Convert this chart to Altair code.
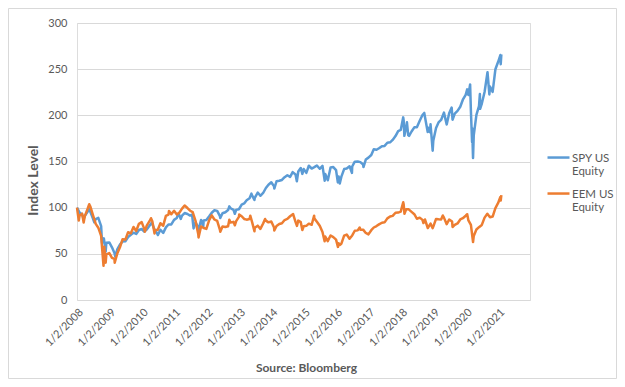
import altair as alt
import pandas as pd

spy_dates = [
    "2008-01-02", "2008-01-31", "2008-02-29", "2008-03-17", "2008-03-31", "2008-04-30", "2008-05-19",
    "2008-06-30", "2008-07-15", "2008-07-31", "2008-08-29", "2008-09-30", "2008-10-10", "2008-10-31",
    "2008-11-20", "2008-11-28", "2008-12-31",
    "2009-01-30", "2009-02-27", "2009-03-09", "2009-03-31", "2009-04-30", "2009-05-29", "2009-06-30",
    "2009-07-31", "2009-08-31", "2009-09-30", "2009-10-30", "2009-11-30", "2009-12-31",
    "2010-01-29", "2010-02-26", "2010-03-31", "2010-04-23", "2010-05-28", "2010-06-30", "2010-07-02",
    "2010-07-30", "2010-08-31", "2010-09-30", "2010-10-29", "2010-11-30", "2010-12-31",
    "2011-01-31", "2011-02-18", "2011-02-28", "2011-03-16", "2011-03-31", "2011-04-29", "2011-05-31",
    "2011-06-30", "2011-07-22", "2011-08-08", "2011-08-31", "2011-09-30", "2011-10-03", "2011-10-31",
    "2011-11-25", "2011-11-30", "2011-12-30",
    "2012-01-31", "2012-02-29", "2012-03-30", "2012-04-30", "2012-05-31", "2012-06-04", "2012-06-29",
    "2012-07-31", "2012-08-31", "2012-09-14", "2012-09-28", "2012-10-31", "2012-11-15", "2012-11-30",
    "2012-12-31",
    "2013-01-31", "2013-02-28", "2013-03-28", "2013-04-30", "2013-05-21", "2013-05-31", "2013-06-24",
    "2013-06-28", "2013-07-31", "2013-08-30", "2013-09-30", "2013-10-31", "2013-11-29", "2013-12-31",
    "2014-01-31", "2014-02-03", "2014-02-28", "2014-03-31", "2014-04-30", "2014-05-30", "2014-06-30",
    "2014-07-31", "2014-08-29", "2014-09-30", "2014-10-15", "2014-10-31", "2014-11-28", "2014-12-16",
    "2014-12-31",
    "2015-01-30", "2015-02-27", "2015-03-31", "2015-04-30", "2015-05-29", "2015-06-30", "2015-07-31",
    "2015-08-25", "2015-08-31", "2015-09-29", "2015-10-30", "2015-11-30", "2015-12-31",
    "2016-01-20", "2016-01-29", "2016-02-11", "2016-02-29", "2016-03-31", "2016-04-29", "2016-05-31",
    "2016-06-27", "2016-06-30", "2016-07-29", "2016-08-31", "2016-09-30", "2016-10-31", "2016-11-04",
    "2016-11-30", "2016-12-30",
    "2017-01-31", "2017-02-28", "2017-03-31", "2017-04-28", "2017-05-31", "2017-06-30", "2017-07-31",
    "2017-08-31", "2017-09-29", "2017-10-31", "2017-11-30", "2017-12-29",
    "2018-01-26", "2018-01-31", "2018-02-08", "2018-02-28", "2018-03-09", "2018-03-23", "2018-04-02",
    "2018-04-30", "2018-05-31", "2018-06-29", "2018-07-31", "2018-08-31", "2018-09-20", "2018-10-29",
    "2018-10-31", "2018-11-23", "2018-11-30", "2018-12-24", "2018-12-31",
    "2019-01-31", "2019-02-28", "2019-03-29", "2019-04-30", "2019-05-31", "2019-06-28", "2019-07-26",
    "2019-08-05", "2019-08-30", "2019-09-30", "2019-10-31", "2019-11-29", "2019-12-31",
    "2020-01-17", "2020-01-31", "2020-02-19", "2020-02-28", "2020-03-12", "2020-03-13", "2020-03-23",
    "2020-03-31", "2020-04-30", "2020-05-29", "2020-06-08", "2020-06-11", "2020-06-30", "2020-07-31",
    "2020-09-02", "2020-09-23", "2020-09-30", "2020-10-30", "2020-11-30", "2020-12-31",
    "2021-01-25", "2021-01-29", "2021-02-05",
]
spy_values = [
    100.0, 94.8, 92.3, 88.0, 91.1, 95.4, 98.5,
    88.3, 84.2, 87.5, 88.9, 80.1, 61.8, 66.8,
    52.4, 62.0, 62.3,
    57.1, 51.0, 47.0, 54.9, 60.0, 63.4, 63.5,
    68.2, 70.7, 72.9, 71.5, 75.8, 76.9,
    74.1, 76.4, 80.7, 83.8, 75.5, 70.9, 70.3,
    76.1, 72.7, 78.7, 81.8, 81.8, 86.8,
    88.8, 93.5, 91.9, 87.8, 91.4, 94.2, 93.1,
    91.4, 92.6, 77.5, 84.1, 78.1, 75.8, 86.6,
    79.8, 86.2, 86.6,
    90.6, 94.5, 97.2, 96.5, 90.8, 88.9, 93.9,
    95.0, 97.4, 101.4, 99.4, 97.6, 93.4, 97.6,
    98.3,
    103.3, 104.6, 108.1, 110.2, 115.2, 112.8, 108.3,
    110.7, 116.4, 112.9, 115.9, 121.3, 124.9, 127.5,
    123.0, 120.7, 128.6, 129.1, 130.0, 133.0, 135.1,
    133.3, 138.5, 136.0, 128.6, 139.2, 143.0, 136.6,
    141.8,
    137.7, 145.4, 142.4, 143.9, 145.7, 142.1, 145.3,
    129.2, 136.4, 129.7, 143.5, 144.0, 140.7,
    127.4, 133.7, 126.2, 133.6, 141.8, 142.4, 144.8,
    137.7, 144.6, 149.8, 150.0, 149.3, 146.7, 144.0,
    152.1, 154.2,
    157.0, 163.2, 162.7, 164.3, 166.6, 166.9, 170.3,
    170.8, 173.4, 177.5, 182.9, 184.2,
    197.8, 194.5, 177.8, 187.5, 192.5, 178.6, 177.7,
    182.5, 187.0, 187.2, 194.1, 200.3, 202.6, 182.0,
    186.7, 181.7, 190.3, 161.7, 172.5,
    186.3, 192.3, 195.0, 202.9, 190.0, 202.2, 208.4,
    195.2, 201.9, 204.8, 209.3, 216.9, 222.2,
    228.1, 222.0, 233.5, 204.5, 171.2, 185.9, 153.8,
    178.3, 200.5, 210.0, 223.1, 207.0, 212.8, 225.3,
    246.7, 222.6, 231.1, 225.3, 249.9, 258.0,
    265.3, 255.4, 266.0,
]

eem_dates = [
    "2008-01-02", "2008-01-22", "2008-01-31", "2008-02-29", "2008-03-17", "2008-03-31", "2008-04-30",
    "2008-05-19", "2008-05-30", "2008-06-30", "2008-07-31", "2008-08-29", "2008-09-30", "2008-10-27",
    "2008-11-04", "2008-11-20", "2008-11-28", "2008-12-31",
    "2009-01-30", "2009-02-27", "2009-03-02", "2009-03-31", "2009-04-30", "2009-05-29", "2009-06-30",
    "2009-07-31", "2009-08-31", "2009-09-30", "2009-10-30", "2009-11-30", "2009-12-31",
    "2010-01-29", "2010-02-05", "2010-02-26", "2010-03-31", "2010-04-15", "2010-04-30", "2010-05-25",
    "2010-05-28", "2010-06-30", "2010-07-30", "2010-08-31", "2010-09-30", "2010-10-29", "2010-11-04",
    "2010-11-30", "2010-12-31",
    "2011-01-31", "2011-02-28", "2011-03-31", "2011-04-29", "2011-05-31", "2011-06-30", "2011-07-29",
    "2011-08-31", "2011-09-30", "2011-10-03", "2011-10-31", "2011-11-30", "2011-12-30",
    "2012-01-31", "2012-02-29", "2012-03-30", "2012-04-30", "2012-05-31", "2012-06-04", "2012-06-29",
    "2012-07-31", "2012-08-31", "2012-09-14", "2012-09-28", "2012-10-31", "2012-11-15", "2012-11-30",
    "2012-12-31",
    "2013-01-03", "2013-01-31", "2013-02-28", "2013-03-28", "2013-04-30", "2013-05-08", "2013-05-31",
    "2013-06-24", "2013-06-28", "2013-07-31", "2013-08-30", "2013-09-30", "2013-10-22", "2013-10-31",
    "2013-11-29", "2013-12-31",
    "2014-01-31", "2014-02-03", "2014-02-28", "2014-03-31", "2014-04-30", "2014-05-30", "2014-06-30",
    "2014-07-31", "2014-09-03", "2014-09-30", "2014-10-16", "2014-10-31", "2014-11-28", "2014-12-16",
    "2014-12-31",
    "2015-01-30", "2015-02-27", "2015-03-31", "2015-04-28", "2015-04-30", "2015-05-29", "2015-06-30",
    "2015-07-31", "2015-08-24", "2015-08-31", "2015-09-28", "2015-10-30", "2015-11-30", "2015-12-31",
    "2016-01-21", "2016-01-29", "2016-02-11", "2016-02-29", "2016-03-31", "2016-04-29", "2016-05-31",
    "2016-06-30", "2016-07-29", "2016-08-31", "2016-09-22", "2016-09-30", "2016-10-31", "2016-11-30",
    "2016-12-30",
    "2017-01-31", "2017-02-28", "2017-03-31", "2017-04-28", "2017-05-31", "2017-06-30", "2017-07-31",
    "2017-08-31", "2017-09-29", "2017-10-31", "2017-11-30", "2017-12-29",
    "2018-01-26", "2018-01-31", "2018-02-09", "2018-02-28", "2018-03-29", "2018-04-30", "2018-05-31",
    "2018-06-29", "2018-07-31", "2018-08-31", "2018-09-11", "2018-09-28", "2018-10-30", "2018-11-30",
    "2018-12-24", "2018-12-31",
    "2019-01-31", "2019-02-28", "2019-03-29", "2019-04-17", "2019-04-30", "2019-05-31", "2019-06-28",
    "2019-07-31", "2019-08-05", "2019-08-30", "2019-09-30", "2019-10-31", "2019-11-29", "2019-12-31",
    "2020-01-17", "2020-01-31", "2020-02-28", "2020-03-23", "2020-03-31", "2020-04-30", "2020-05-29",
    "2020-06-30", "2020-07-31", "2020-08-31", "2020-09-30", "2020-10-30", "2020-11-30", "2020-12-31",
    "2021-01-25", "2021-01-29", "2021-02-05",
]
eem_values = [
    100.0, 86.0, 91.5, 93.5, 84.0, 91.1, 98.6,
    103.7, 101.6, 91.9, 82.5, 78.3, 69.5, 37.0,
    57.7, 40.4, 49.4, 50.8,
    45.7, 44.5, 40.4, 50.4, 57.1, 65.7, 65.4,
    73.4, 72.2, 79.1, 74.8, 82.5, 84.3,
    77.0, 74.0, 80.5, 85.6, 88.6, 85.4, 72.0,
    75.8, 75.8, 83.1, 80.5, 91.1, 92.5, 96.5,
    92.9, 96.7,
    92.7, 94.5, 99.0, 102.4, 99.6, 96.7, 95.1,
    85.4, 71.3, 67.7, 79.7, 78.0, 77.0,
    86.6, 91.7, 87.2, 85.6, 76.0, 74.0, 79.7,
    79.1, 79.9, 87.0, 83.9, 84.6, 80.9, 85.4,
    90.0,
    92.5, 90.7, 87.8, 87.0, 87.8, 91.3, 83.5,
    74.4, 78.3, 80.5, 77.0, 82.9, 87.8, 86.0,
    84.1, 85.0,
    78.5, 75.2, 80.1, 82.3, 83.1, 86.6, 87.8,
    90.7, 93.1, 84.6, 80.3, 86.0, 84.3, 75.8,
    79.9,
    80.3, 82.7, 81.5, 91.3, 88.4, 84.8, 80.5,
    73.6, 63.6, 68.7, 63.8, 69.9, 68.1, 65.4,
    57.5, 61.4, 59.6, 61.0, 69.7, 70.9, 66.3,
    69.9, 75.0, 75.4, 78.5, 76.2, 76.2, 72.6,
    71.1,
    75.6, 78.5, 80.1, 81.9, 83.7, 84.1, 88.4,
    90.4, 91.1, 94.5, 94.7, 95.7,
    105.9, 103.7, 93.3, 98.2, 98.2, 95.5, 92.9,
    88.0, 89.2, 86.8, 83.3, 87.2, 78.0, 82.7,
    77.8, 79.5,
    87.8, 87.4, 87.2, 91.5, 89.2, 82.1, 87.2,
    85.0, 79.1, 81.3, 82.9, 87.2, 88.6, 91.3,
    92.9, 86.2, 81.3, 62.8, 69.3, 76.4, 78.9,
    81.3, 89.2, 93.3, 89.6, 90.4, 99.6, 105.1,
    111.5, 107.7, 113.5,
]

series_names = ["SPY US Equity", "EEM US Equity"]
series_colors = ["#5B9BD5", "#ED7D31"]
tick_years = list(range(2008, 2022))
y_ticks = [0, 50, 100, 150, 200, 250, 300]

spy_df = pd.DataFrame({"date": spy_dates, "value": spy_values, "series": series_names[0]})
eem_df = pd.DataFrame({"date": eem_dates, "value": eem_values, "series": series_names[1]})

FONT = "Lato"
GREY = "#595959"

x_enc = alt.X(
    "date:T",
    scale=alt.Scale(type="utc", domain=[alt.DateTime(year=2008, month=1, date=2, utc=True),
                                        alt.DateTime(year=2021, month=12, date=25, utc=True)]),
    axis=alt.Axis(
        values=[alt.DateTime(year=y, month=1, date=2, utc=True) for y in tick_years],
        labelExpr="utcFormat(datum.value, '%-m/%-d/%Y')",
        labelAngle=-45,
        labelFont=FONT, labelFontSize=11, labelColor=GREY, labelPadding=6,
        labelOverlap=False, labelBound=False, labelFlush=False,
        grid=False, ticks=False, domain=False,
        title="Source: Bloomberg", titleFont=FONT, titleFontSize=12, titleFontWeight="bold",
        titleColor=GREY, titleX=229, titleY=71, titleBaseline="alphabetic",
    ),
)
y_enc = alt.Y(
    "value:Q",
    scale=alt.Scale(domain=[0, 300], nice=False),
    axis=alt.Axis(
        values=y_ticks, labelFont=FONT, labelFontSize=11, labelColor=GREY, labelPadding=10,
        ticks=False, domain=False, gridColor="#d9d9d9", gridWidth=1,
        title="Index Level", titleFont=FONT, titleFontSize=14, titleFontWeight="bold",
        titleColor=GREY, titleX=-37, titleY=157,
    ),
)
color_enc = alt.Color(
    "series:N",
    scale=alt.Scale(domain=series_names, range=series_colors),
    title=None,
    legend=alt.Legend(
        orient="none", legendX=469, legendY=126, direction="vertical",
        symbolType="M-1,-0.36L1,-0.36", symbolSize=484, symbolStrokeWidth=2.5,
        labelFont=FONT, labelFontSize=11.5, labelColor=GREY, labelBaseline="alphabetic",
        labelExpr="datum.label == 'SPY US Equity' ? ['SPY US', 'Equity'] : ['EEM US', 'Equity']",
        rowPadding=7, labelOffset=1, labelLimit=60,
    ),
)

spy_line = alt.Chart(spy_df).mark_line(strokeWidth=2.5, strokeJoin="round").encode(
    x=x_enc, y=y_enc, color=color_enc)
eem_line = alt.Chart(eem_df).mark_line(strokeWidth=2.5, strokeJoin="round").encode(
    x=x_enc, y=y_enc, color=color_enc)

border = alt.Chart(pd.DataFrame({"a": [0]})).mark_rect(
    fillOpacity=0, stroke="#d9d9d9", strokeWidth=1
).encode(
    x=alt.value(-68.5), x2=alt.value(539.5), y=alt.value(-14.5), y2=alt.value(355.5)
)

chart = alt.layer(border, spy_line, eem_line).properties(
    width=453, height=277,
    autosize=alt.AutoSizeParams(type="none"),
    padding={"left": 69, "top": 15, "right": 87, "bottom": 79},
).configure_view(stroke=None).configure(background="white")

chart.save("out.html", embed_options={"renderer": "svg", "actions": False})
